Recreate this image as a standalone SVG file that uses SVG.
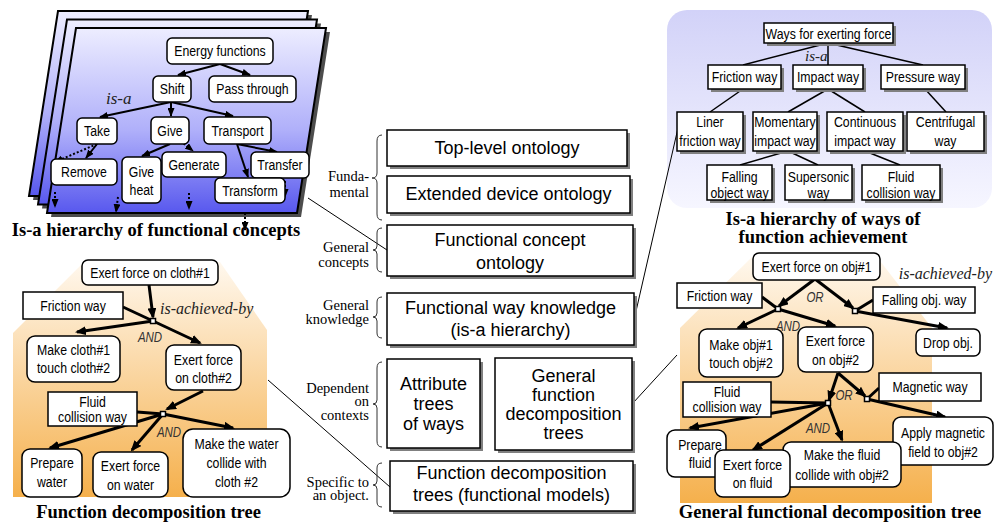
<svg xmlns="http://www.w3.org/2000/svg" width="994" height="522" viewBox="0 0 994 522">
<defs>
<linearGradient id="gPlate" x1="0" y1="0" x2="0" y2="1">
<stop offset="0" stop-color="#ededff"/>
<stop offset="0.55" stop-color="#b0b0fa"/>
<stop offset="1" stop-color="#5858ee"/>
</linearGradient>
<linearGradient id="gWay" x1="0" y1="0" x2="0" y2="1">
<stop offset="0" stop-color="#d2d2f8"/>
<stop offset="1" stop-color="#f6f6ff"/>
</linearGradient>
<linearGradient id="gOr" x1="0" y1="0" x2="0" y2="1">
<stop offset="0" stop-color="#fff8ee"/>
<stop offset="1" stop-color="#f5b04c"/>
</linearGradient>
<marker id="ah" markerUnits="userSpaceOnUse" markerWidth="11" markerHeight="9" refX="9" refY="4.5" orient="auto">
<path d="M0,0 L11,4.5 L0,9 z" fill="#000"/>
</marker>
<marker id="ah2" markerUnits="userSpaceOnUse" markerWidth="9" markerHeight="7" refX="8" refY="3.5" orient="auto">
<path d="M0,0 L9,3.5 L0,7 z" fill="#000"/>
</marker>
<style>
.box{fill:#fff;stroke:#000;stroke-width:1.5}
.sh{fill:#808080}
.n{font-family:'Liberation Sans',Arial,sans-serif;font-size:15px;text-anchor:middle;fill:#000}
.c{font-family:'Liberation Sans',Arial,sans-serif;font-size:18px;text-anchor:middle;fill:#000}
.l{font-family:'Liberation Serif','Times New Roman',serif;font-size:14.5px;text-anchor:end;fill:#000}
.cap{font-family:'Liberation Serif','Times New Roman',serif;font-weight:bold;font-size:18.5px;text-anchor:middle;fill:#000}
.it{font-family:'Liberation Serif','Times New Roman',serif;font-style:italic;fill:#222}
.op{font-family:'Liberation Sans',Arial,sans-serif;font-style:italic;font-size:14px;fill:#333;text-anchor:middle}
.thick{stroke:#000;stroke-width:3;fill:none}
.med{stroke:#000;stroke-width:2;fill:none}
.thin{stroke:#000;stroke-width:1;fill:none}
.way{stroke:#000;stroke-width:1.5;fill:none}
.dot{stroke-dasharray:2 2}
.jn{fill:#fff;stroke:#000;stroke-width:1.5}
.plate{fill:url(#gPlate);stroke:#000;stroke-width:2}
.psh{fill:#4d4d4d}
.brace{fill:none;stroke:#333;stroke-width:1}
</style>
</defs>

<!-- backgrounds -->
<g id="plates">
<polygon class="psh" points="62,15 312,15 283,200 33,200"/>
<polygon class="plate" points="58,11 308,11 279,196 29,196"/>
<polygon class="psh" points="71,23.5 321,23.5 292,208.5 42,208.5"/>
<polygon class="plate" points="67,19.5 317,19.5 288,204.5 38,204.5"/>
<polygon class="psh" points="80,32 330,32 301,217 51,217"/>
<polygon class="plate" points="76,28 326,28 297,213 47,213"/>
</g>
<rect id="ways-bg" x="667" y="10" width="325" height="198" rx="20" fill="url(#gWay)"/>
<polygon id="fdt-bg" points="84,262 220,262 267,330 267,497 13,497 13,333" fill="url(#gOr)"/>
<polygon id="gfdt-bg" points="752,257 877,257 932,328 932,503 680,503 680,328" fill="url(#gOr)"/>

<!-- connectors -->
<g id="connectors">
<line class="thin" x1="308" y1="198" x2="387" y2="250"/>
<line class="thin" x1="634" y1="320" x2="678" y2="128"/>
<line class="thin" x1="633" y1="403" x2="677" y2="355"/>
<line class="thin" x1="268" y1="380" x2="390" y2="487"/>
<line class="med" x1="220" y1="64" x2="178" y2="75" marker-end="url(#ah2)"/>
<line class="med" x1="220" y1="64" x2="250" y2="75" marker-end="url(#ah2)"/>
<line class="med" x1="171" y1="102" x2="100" y2="117" marker-end="url(#ah2)"/>
<line class="med" x1="171" y1="102" x2="171" y2="116" marker-end="url(#ah2)"/>
<line class="med" x1="171" y1="102" x2="233" y2="116" marker-end="url(#ah2)"/>
<line class="med" x1="97" y1="144" x2="86" y2="158" marker-end="url(#ah2)"/>
<line class="med dot" x1="97" y1="144" x2="55" y2="162" marker-end="url(#ah2)"/>
<line class="med" x1="170" y1="144" x2="142" y2="156" marker-end="url(#ah2)"/>
<line class="med dot" x1="168" y1="131" x2="193" y2="151" marker-end="url(#ah2)"/>
<line class="med" x1="237" y1="144" x2="277" y2="152" marker-end="url(#ah2)"/>
<line class="med" x1="237" y1="144" x2="248" y2="177" marker-end="url(#ah2)"/>
<line class="med dot" x1="285" y1="181" x2="285" y2="197" marker-end="url(#ah2)"/>
<line class="med dot" x1="55" y1="192" x2="55" y2="207" marker-end="url(#ah2)"/>
<line class="med dot" x1="118" y1="197" x2="116" y2="212" marker-end="url(#ah2)"/>
<line class="med dot" x1="189" y1="193" x2="189" y2="209" marker-end="url(#ah2)"/>
<line class="med dot" x1="245" y1="213" x2="245" y2="230" marker-end="url(#ah2)"/>
<line class="way" x1="828" y1="43" x2="743" y2="65"/>
<line class="way" x1="828" y1="43" x2="828" y2="65"/>
<line class="way" x1="828" y1="43" x2="923" y2="65"/>
<line class="way" x1="743" y1="89" x2="710" y2="112"/>
<line class="way" x1="828" y1="89" x2="788" y2="112"/>
<line class="way" x1="828" y1="89" x2="865" y2="112"/>
<line class="way" x1="925" y1="89" x2="946" y2="112"/>
<line class="way" x1="788" y1="151" x2="740" y2="165"/>
<line class="way" x1="788" y1="151" x2="818" y2="165"/>
<line class="way" x1="865" y1="151" x2="900" y2="165"/>
<line class="thick" x1="149" y1="285" x2="153" y2="317" marker-end="url(#ah)"/>
<line class="thick" x1="123" y1="307" x2="153" y2="321"/>
<line class="thick" x1="153" y1="321" x2="77" y2="332" marker-end="url(#ah)"/>
<line class="thick" x1="153" y1="321" x2="200" y2="343" marker-end="url(#ah)"/>
<line class="thick" x1="203" y1="391" x2="167" y2="409" marker-end="url(#ah)"/>
<line class="thick" x1="137" y1="412" x2="163" y2="414"/>
<line class="thick" x1="163" y1="414" x2="50" y2="448" marker-end="url(#ah)"/>
<line class="thick" x1="163" y1="414" x2="132" y2="450" marker-end="url(#ah)"/>
<line class="thick" x1="163" y1="414" x2="233" y2="428" marker-end="url(#ah)"/>
<line class="thick" x1="815" y1="279" x2="779" y2="306" marker-end="url(#ah)"/>
<line class="thick" x1="815" y1="279" x2="853" y2="308" marker-end="url(#ah)"/>
<line class="thick" x1="762" y1="297" x2="778" y2="309"/>
<line class="thick" x1="873" y1="300" x2="855" y2="311"/>
<line class="thick" x1="778" y1="309" x2="738" y2="328" marker-end="url(#ah)"/>
<line class="thick" x1="778" y1="309" x2="835" y2="326" marker-end="url(#ah)"/>
<line class="thick" x1="855" y1="311" x2="947" y2="328" marker-end="url(#ah)"/>
<line class="thick" x1="838" y1="373" x2="829" y2="400" marker-end="url(#ah)"/>
<line class="thick" x1="838" y1="373" x2="865" y2="396" marker-end="url(#ah)"/>
<line class="thick" x1="771" y1="402" x2="828" y2="403"/>
<line class="thick" x1="879" y1="388" x2="867" y2="399"/>
<line class="thick" x1="867" y1="399" x2="945" y2="417" marker-end="url(#ah)"/>
<line class="thick" x1="828" y1="403" x2="690" y2="428" marker-end="url(#ah)"/>
<line class="thick" x1="828" y1="403" x2="753" y2="450" marker-end="url(#ah)"/>
<line class="thick" x1="828" y1="403" x2="842" y2="440" marker-end="url(#ah)"/>
</g>

<!-- top-left nodes -->
<g id="tl-energy"><rect class="box" x="167" y="38" width="106" height="26" rx="5"/><text class="n" transform="translate(220 56) scale(.82 1)">Energy functions</text></g>
<g id="tl-shift"><rect class="box" x="153" y="76" width="38" height="26" rx="5"/><text class="n" transform="translate(172 94) scale(.82 1)">Shift</text></g>
<g id="tl-pass"><rect class="box" x="209" y="76" width="87" height="26" rx="5"/><text class="n" transform="translate(252.5 94) scale(.82 1)">Pass through</text></g>
<text class="it" x="106" y="104" font-size="17">is-a</text>
<g id="tl-take"><rect class="box" x="77" y="118" width="40" height="26" rx="5"/><text class="n" transform="translate(97 136) scale(.82 1)">Take</text></g>
<g id="tl-give"><rect class="box" x="151" y="117" width="38" height="27" rx="5"/><text class="n" transform="translate(170 135.5) scale(.82 1)">Give</text></g>
<g id="tl-transport"><rect class="box" x="204" y="117" width="67" height="27" rx="5"/><text class="n" transform="translate(237.5 135.5) scale(.82 1)">Transport</text></g>
<g id="tl-remove"><rect class="box" x="51" y="159" width="66" height="26" rx="5"/><text class="n" transform="translate(84 177) scale(.82 1)">Remove</text></g>
<g id="tl-giveheat"><rect class="box" x="122" y="157" width="39" height="46" rx="5"/><text class="n" transform="translate(141.5 177) scale(.82 1)"><tspan x="0">Give</tspan><tspan x="0" dy="18.5">heat</tspan></text></g>
<g id="tl-generate"><rect class="box" x="162" y="152" width="64" height="25" rx="5"/><text class="n" transform="translate(194 169.5) scale(.82 1)">Generate</text></g>
<g id="tl-transfer"><rect class="box" x="251" y="152" width="58" height="26" rx="5"/><text class="n" transform="translate(280 170) scale(.82 1)">Transfer</text></g>
<g id="tl-transform"><rect class="box" x="215" y="178" width="70" height="25" rx="5"/><text class="n" transform="translate(250 195.5) scale(.82 1)">Transform</text></g>
<text class="cap" x="156" y="236">Is-a hierarchy of functional concepts</text>

<!-- center layers -->
<g id="layers-labels">
<path class="brace" d="M382,135 Q377,135 377,141 L377,173 Q377,178 372,178 Q377,178 377,183 L377,214 Q377,220 382,220"/>
<path class="brace" d="M382,228 Q377,228 377,233 L377,246 Q377,250 373,250 Q377,250 377,254 L377,267 Q377,272 382,272"/>
<path class="brace" d="M382,297 Q377,297 377,302 L377,313 Q377,317 373,317 Q377,317 377,321 L377,333 Q377,338 382,338"/>
<path class="brace" d="M382,362 Q377,362 377,368 L377,400 Q377,404 373,404 Q377,404 377,408 L377,441 Q377,447 382,447"/>
<path class="brace" d="M382,463 Q377,463 377,468 L377,481 Q377,485 373,485 Q377,485 377,489 L377,502 Q377,507 382,507"/>
<text class="l" x="369" y="181">Funda-</text>
<text class="l" x="369" y="197">mental</text>
<text class="l" x="369" y="252">General</text>
<text class="l" x="369" y="267">concepts</text>
<text class="l" x="369" y="310">General</text>
<text class="l" x="369" y="324">knowledge</text>
<text class="l" x="369" y="393">Dependent</text>
<text class="l" x="369" y="406">on</text>
<text class="l" x="369" y="420">contexts</text>
<text class="l" x="369" y="487">Specific to</text>
<text class="l" x="369" y="500">an object.</text>
</g>
<g id="c-top"><rect class="sh" x="390" y="133" width="240" height="36"/><rect class="box" x="387" y="130" width="240" height="36"/><text class="c" x="507" y="154">Top-level ontology</text></g>
<g id="c-ext"><rect class="sh" x="390" y="179" width="243" height="37"/><rect class="box" x="387" y="176" width="243" height="37"/><text class="c" x="508.5" y="200">Extended device ontology</text></g>
<g id="c-func"><rect class="sh" x="390" y="228" width="246" height="51"/><rect class="box" x="387" y="225" width="246" height="51"/><text class="c" x="510" y="246">Functional concept<tspan x="510" dy="23">ontology</tspan></text></g>
<g id="c-way"><rect class="sh" x="390" y="296" width="247" height="52"/><rect class="box" x="387" y="293" width="247" height="52"/><text class="c" x="510.5" y="314">Functional way knowledge<tspan x="510.5" dy="22">(is-a hierarchy)</tspan></text></g>
<g id="c-attr"><rect class="sh" x="390" y="362" width="93" height="89"/><rect class="box" x="387" y="359" width="93" height="89"/><text class="c" x="433.5" y="389.5">Attribute<tspan x="433.5" dy="20">trees</tspan><tspan x="433.5" dy="20">of ways</tspan></text></g>
<g id="c-gfd"><rect class="sh" x="498" y="361" width="137" height="92"/><rect class="box" x="495" y="358" width="137" height="92"/><text class="c" x="563.5" y="382">General<tspan x="563.5" dy="19">function</tspan><tspan x="563.5" dy="19">decomposition</tspan><tspan x="563.5" dy="19">trees</tspan></text></g>
<g id="c-fd"><rect class="sh" x="393" y="464" width="243" height="50"/><rect class="box" x="390" y="461" width="243" height="50"/><text class="c" x="511.5" y="479">Function decomposition<tspan x="511.5" dy="22">trees (functional models)</tspan></text></g>

<!-- top-right ways -->
<g id="w-root"><rect class="sh" x="767" y="26" width="129" height="20"/><rect class="box" x="764" y="23" width="129" height="20"/><text class="n" transform="translate(828.5 38.5) scale(.82 1)">Ways for exerting force</text></g>
<text class="it" x="805" y="61" font-size="15">is-a</text>
<g id="w-friction"><rect class="sh" x="711" y="68" width="73" height="24"/><rect class="box" x="708" y="65" width="73" height="24"/><text class="n" transform="translate(744.5 82) scale(.82 1)">Friction way</text></g>
<g id="w-impact"><rect class="sh" x="796" y="68" width="70" height="24"/><rect class="box" x="793" y="65" width="70" height="24"/><text class="n" transform="translate(828 82) scale(.82 1)">Impact way</text></g>
<g id="w-pressure"><rect class="sh" x="884" y="68" width="84" height="24"/><rect class="box" x="881" y="65" width="84" height="24"/><text class="n" transform="translate(923 82) scale(.82 1)">Pressure way</text></g>
<g id="w-liner"><rect class="sh" x="680" y="115" width="66" height="39"/><rect class="box" x="677" y="112" width="66" height="39"/><text class="n" transform="translate(710 127) scale(.82 1)"><tspan x="0">Liner</tspan><tspan x="0" dy="19">friction way</tspan></text></g>
<g id="w-momentary"><rect class="sh" x="756" y="115" width="64" height="39"/><rect class="box" x="753" y="112" width="64" height="39"/><text class="n" transform="translate(785 127) scale(.82 1)"><tspan x="0">Momentary</tspan><tspan x="0" dy="19">impact way</tspan></text></g>
<g id="w-continuous"><rect class="sh" x="830" y="115" width="76" height="39"/><rect class="box" x="827" y="112" width="76" height="39"/><text class="n" transform="translate(865 127) scale(.82 1)"><tspan x="0">Continuous</tspan><tspan x="0" dy="19">impact way</tspan></text></g>
<g id="w-centrifugal"><rect class="sh" x="910" y="115" width="77" height="39"/><rect class="box" x="907" y="112" width="77" height="39"/><text class="n" transform="translate(945.5 127) scale(.82 1)"><tspan x="0">Centrifugal</tspan><tspan x="0" dy="19">way</tspan></text></g>
<g id="w-falling"><rect class="sh" x="710" y="168" width="65" height="35"/><rect class="box" x="707" y="165" width="65" height="35"/><text class="n" transform="translate(739.5 181.5) scale(.82 1)"><tspan x="0">Falling</tspan><tspan x="0" dy="16.5">object way</tspan></text></g>
<g id="w-supersonic"><rect class="sh" x="788" y="168" width="67" height="35"/><rect class="box" x="785" y="165" width="67" height="35"/><text class="n" transform="translate(818.5 181.5) scale(.82 1)"><tspan x="0">Supersonic</tspan><tspan x="0" dy="16.5">way</tspan></text></g>
<g id="w-fluid"><rect class="sh" x="865" y="168" width="78" height="35"/><rect class="box" x="862" y="165" width="78" height="35"/><text class="n" transform="translate(901 181.5) scale(.82 1)"><tspan x="0">Fluid</tspan><tspan x="0" dy="16.5">collision way</tspan></text></g>
<text class="cap" x="823" y="225" font-size="17">Is-a hierarchy of ways of</text>
<text class="cap" x="823" y="243" font-size="17">function achievement</text>

<!-- bottom-left function decomposition tree -->
<g id="f-root"><rect class="box" x="82" y="260" width="136" height="25" rx="6"/><text class="n" transform="translate(150 277.5) scale(.82 1)">Exert force on cloth#1</text></g>
<g id="f-friction"><rect class="box" x="23" y="292" width="100" height="27"/><text class="n" transform="translate(73 310.5) scale(.82 1)">Friction way</text></g>
<text class="it" x="160" y="314" font-size="16">is-achieved-by</text>
<text class="op" transform="translate(150 342) scale(.82 1)">AND</text>
<g id="f-touch"><rect class="box" x="27" y="336" width="93" height="46" rx="8"/><text class="n" transform="translate(73.5 355) scale(.82 1)"><tspan x="0">Make cloth#1</tspan><tspan x="0" dy="18.5">touch cloth#2</tspan></text></g>
<g id="f-exert2"><rect class="box" x="166" y="345" width="75" height="45" rx="8"/><text class="n" transform="translate(203.5 365) scale(.82 1)"><tspan x="0">Exert force</tspan><tspan x="0" dy="18.5">on cloth#2</tspan></text></g>
<g id="f-fluid"><rect class="box" x="48" y="392" width="89" height="34"/><text class="n" transform="translate(92.5 407) scale(.82 1)"><tspan x="0">Fluid</tspan><tspan x="0" dy="15.5">collision way</tspan></text></g>
<text class="op" transform="translate(169 437) scale(.82 1)">AND</text>
<g id="f-prepare"><rect class="box" x="22" y="449" width="60" height="48" rx="8"/><text class="n" transform="translate(52 468) scale(.82 1)"><tspan x="0">Prepare</tspan><tspan x="0" dy="19">water</tspan></text></g>
<g id="f-exertw"><rect class="box" x="93" y="452" width="75" height="45" rx="8"/><text class="n" transform="translate(130.5 471) scale(.82 1)"><tspan x="0">Exert force</tspan><tspan x="0" dy="19">on water</tspan></text></g>
<g id="f-collide"><rect class="box" x="183" y="429" width="107" height="68" rx="10"/><text class="n" transform="translate(236.5 449) scale(.82 1)"><tspan x="0">Make the water</tspan><tspan x="0" dy="19">collide with</tspan><tspan x="0" dy="19">cloth #2</tspan></text></g>
<text class="cap" x="148.5" y="518">Function decomposition tree</text>

<!-- bottom-right general functional decomposition tree -->
<g id="g-root"><rect class="box" x="753" y="253" width="127" height="27" rx="6"/><text class="n" transform="translate(816.5 271.5) scale(.82 1)">Exert force on obj#1</text></g>
<text class="it" x="992" y="279" font-size="16" text-anchor="end">is-achieved-by</text>
<g id="g-friction"><rect class="box" x="677" y="283" width="85" height="25"/><text class="n" transform="translate(719.5 300.5) scale(.82 1)">Friction way</text></g>
<text class="op" transform="translate(815 302) scale(.82 1)">OR</text>
<g id="g-falling"><rect class="box" x="873" y="287" width="102" height="26"/><text class="n" transform="translate(924 305) scale(.82 1)">Falling obj. way</text></g>
<text class="op" transform="translate(788 331) scale(.82 1)">AND</text>
<g id="g-touch"><rect class="box" x="699" y="329" width="84" height="48" rx="8"/><text class="n" transform="translate(741 350) scale(.82 1)"><tspan x="0">Make obj#1</tspan><tspan x="0" dy="18.5">touch obj#2</tspan></text></g>
<g id="g-exert2"><rect class="box" x="798" y="327" width="75" height="45" rx="8"/><text class="n" transform="translate(835.5 346) scale(.82 1)"><tspan x="0">Exert force</tspan><tspan x="0" dy="19">on obj#2</tspan></text></g>
<g id="g-drop"><rect class="box" x="916" y="329" width="64" height="27" rx="6"/><text class="n" transform="translate(948 348) scale(.82 1)">Drop obj.</text></g>
<g id="g-fluid"><rect class="box" x="683" y="382" width="88" height="35"/><text class="n" transform="translate(727 397) scale(.82 1)"><tspan x="0">Fluid</tspan><tspan x="0" dy="15.5">collision way</tspan></text></g>
<text class="op" transform="translate(844 400) scale(.82 1)">OR</text>
<g id="g-magnetic"><rect class="box" x="879" y="373" width="102" height="28"/><text class="n" transform="translate(930 392) scale(.82 1)">Magnetic way</text></g>
<text class="op" transform="translate(818 433) scale(.82 1)">AND</text>
<g id="g-apply"><rect class="box" x="893" y="417" width="100" height="48" rx="8"/><text class="n" transform="translate(943 438) scale(.82 1)"><tspan x="0">Apply magnetic</tspan><tspan x="0" dy="19">field to obj#2</tspan></text></g>
<g id="g-collide"><rect class="box" x="783" y="442" width="118" height="45" rx="8"/><text class="n" transform="translate(842 460) scale(.82 1)"><tspan x="0">Make the fluid</tspan><tspan x="0" dy="20">collide with obj#2</tspan></text></g>
<g id="g-prepare"><rect class="box" x="667" y="430" width="59" height="47" rx="8"/><text class="n" transform="translate(700 450) scale(.82 1)"><tspan x="0">Prepare</tspan><tspan x="0" dy="18.5">fluid</tspan></text></g>
<g id="g-exertf"><rect class="box" x="715" y="450" width="75" height="47" rx="8"/><text class="n" transform="translate(752.5 470) scale(.82 1)"><tspan x="0">Exert force</tspan><tspan x="0" dy="18.5">on fluid</tspan></text></g>
<text class="cap" x="830" y="518">General functional decomposition tree</text>

<!-- junctions -->
<g id="junctions">
<rect class="jn" x="150.5" y="318.5" width="5" height="5"/>
<rect class="jn" x="160.5" y="411.5" width="5" height="5"/>
<rect class="jn" x="775.5" y="306.5" width="5" height="5"/>
<rect class="jn" x="852.5" y="308.5" width="5" height="5"/>
<rect class="jn" x="825.5" y="400.5" width="5" height="5"/>
<rect class="jn" x="864.5" y="396.5" width="5" height="5"/>
</g>
</svg>
